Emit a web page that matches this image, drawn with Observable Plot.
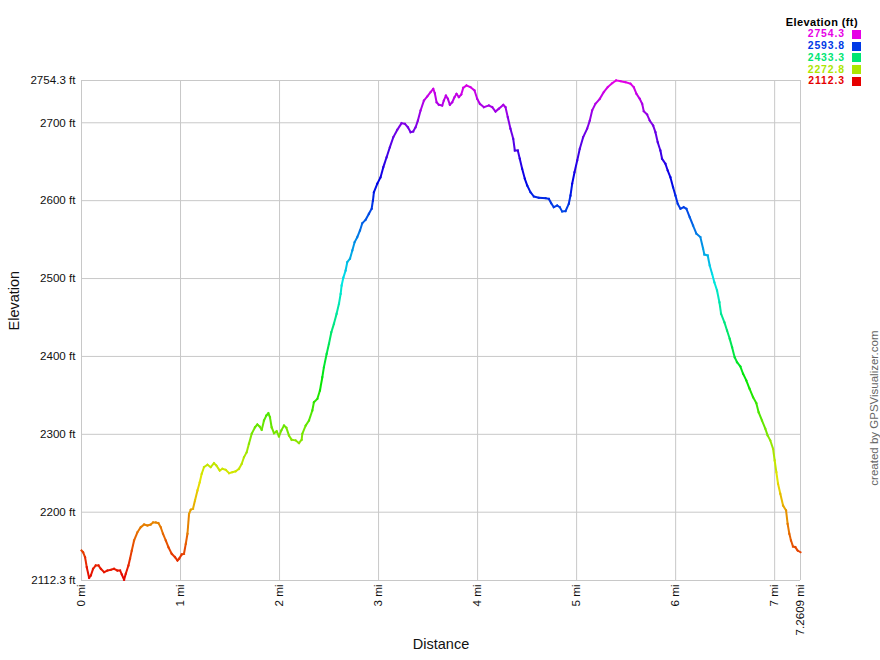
<!DOCTYPE html>
<html>
<head>
<meta charset="utf-8">
<script src="https://cdn.jsdelivr.net/npm/d3@7"></script>
<script src="https://cdn.jsdelivr.net/npm/@observablehq/plot@0.6"></script>
<style>
  html, body { margin: 0; padding: 0; background: #fff; }
  #wrap { position: relative; width: 880px; height: 660px; font-family: "Liberation Sans", Arial, sans-serif; }
  #wrap svg { display: block; }
  .lg { position: absolute; font-weight: bold; line-height: 1; white-space: nowrap; }
  .sw { position: absolute; width: 9px; height: 9px; }
</style>
</head>
<body>
<div id="wrap"></div>
<script>
// Distance along the track (miles)
const distanceMi = [
  0, 0.016, 0.036, 0.053, 0.077, 0.094, 0.117, 0.144, 0.172, 0.195,
  0.228, 0.262, 0.296, 0.329, 0.363, 0.390, 0.407, 0.430, 0.447, 0.474,
  0.490, 0.508, 0.531, 0.565, 0.598, 0.632, 0.666, 0.699, 0.723, 0.750,
  0.777, 0.800, 0.823, 0.851, 0.878, 0.911, 0.945, 0.969, 0.985, 1.012,
  1.035, 1.053, 1.070, 1.086, 1.103, 1.126, 1.146, 1.171, 1.194, 1.214,
  1.237, 1.272, 1.305, 1.338, 1.362, 1.396, 1.423, 1.456, 1.490, 1.524,
  1.557, 1.590, 1.618, 1.641, 1.668, 1.691, 1.719, 1.752, 1.776, 1.799,
  1.820, 1.843, 1.867, 1.887, 1.903, 1.920, 1.944, 1.971, 1.994, 2.018,
  2.045, 2.069, 2.095, 2.122, 2.163, 2.196, 2.223, 2.230, 2.264, 2.297,
  2.331, 2.347, 2.382, 2.408, 2.432, 2.448, 2.476, 2.499, 2.523, 2.549,
  2.576, 2.600, 2.617, 2.627, 2.644, 2.667, 2.684, 2.711, 2.735, 2.758,
  2.785, 2.812, 2.836, 2.869, 2.902, 2.930, 2.943, 2.953, 2.987, 3.020,
  3.048, 3.081, 3.114, 3.149, 3.189, 3.232, 3.266, 3.296, 3.323, 3.350,
  3.374, 3.397, 3.424, 3.458, 3.492, 3.525, 3.552, 3.568, 3.586, 3.609,
  3.643, 3.659, 3.680, 3.700, 3.720, 3.744, 3.767, 3.787, 3.811, 3.835,
  3.855, 3.888, 3.929, 3.969, 3.996, 4.023, 4.063, 4.113, 4.148, 4.181,
  4.214, 4.259, 4.282, 4.305, 4.332, 4.360, 4.376, 4.406, 4.426, 4.450,
  4.477, 4.501, 4.534, 4.568, 4.618, 4.686, 4.719, 4.743, 4.769, 4.804,
  4.830, 4.854, 4.888, 4.921, 4.938, 4.955, 4.979, 5.006, 5.032, 5.066,
  5.106, 5.133, 5.157, 5.190, 5.234, 5.274, 5.314, 5.359, 5.399, 5.443,
  5.493, 5.544, 5.577, 5.604, 5.637, 5.662, 5.678, 5.712, 5.738, 5.773,
  5.796, 5.819, 5.846, 5.863, 5.897, 5.920, 5.947, 5.974, 5.998, 6.021,
  6.048, 6.081, 6.109, 6.142, 6.176, 6.210, 6.250, 6.277, 6.290, 6.324,
  6.344, 6.368, 6.391, 6.418, 6.442, 6.459, 6.492, 6.519, 6.546, 6.570,
  6.596, 6.620, 6.654, 6.681, 6.714, 6.747, 6.782, 6.815, 6.838, 6.872,
  6.906, 6.929, 6.956, 6.984, 7.000, 7.017, 7.034, 7.057, 7.085, 7.115,
  7.131, 7.148, 7.165, 7.185, 7.209, 7.232, 7.2609
];
// Elevation at each point (feet)
const elevationFt = [
  2150.8, 2148.6, 2142.2, 2129.4, 2115.8, 2118.7, 2127.3, 2131.6, 2131.6, 2127.3,
  2123.0, 2125.1, 2126.0, 2127.3, 2125.1, 2125.1, 2120.0, 2113.2, 2120.9, 2131.6,
  2140.2, 2150.8, 2163.7, 2174.3, 2180.7, 2184.2, 2182.9, 2184.2, 2186.8, 2186.8,
  2185.9, 2180.7, 2172.3, 2163.7, 2155.1, 2146.6, 2142.2, 2138.0, 2140.2, 2145.7,
  2146.6, 2159.4, 2172.3, 2197.9, 2203.1, 2204.4, 2215.0, 2227.9, 2238.5, 2249.3,
  2257.8, 2260.9, 2257.8, 2262.9, 2260.0, 2253.5, 2255.7, 2254.4, 2250.1, 2251.4,
  2252.6, 2255.7, 2262.1, 2270.6, 2277.0, 2287.8, 2300.7, 2309.1, 2312.6, 2310.0,
  2305.8, 2317.7, 2324.2, 2327.1, 2322.0, 2309.1, 2301.4, 2304.0, 2297.2, 2304.9,
  2311.3, 2308.4, 2298.5, 2293.0, 2292.1, 2288.6, 2293.0, 2300.7, 2311.3, 2317.7,
  2330.6, 2341.2, 2345.6, 2356.3, 2373.3, 2386.2, 2403.4, 2416.2, 2431.1, 2441.9,
  2454.7, 2467.6, 2480.4, 2491.1, 2501.0, 2510.3, 2521.0, 2525.4, 2536.0, 2546.7,
  2553.1, 2561.7, 2571.1, 2575.4, 2583.1, 2589.6, 2600.2, 2610.9, 2621.7, 2630.1,
  2643.0, 2655.8, 2668.7, 2681.5, 2691.0, 2699.5, 2698.7, 2694.3, 2687.9, 2688.8,
  2694.3, 2702.9, 2715.8, 2728.6, 2733.8, 2739.3, 2743.6, 2738.0, 2726.4, 2723.1,
  2722.2, 2728.6, 2735.0, 2730.8, 2723.1, 2726.4, 2732.9, 2737.2, 2732.9, 2736.3,
  2744.9, 2747.9, 2745.7, 2741.5, 2730.8, 2724.4, 2720.0, 2722.2, 2720.0, 2714.5,
  2718.0, 2723.1, 2720.0, 2707.2, 2692.3, 2679.4, 2664.4, 2664.4, 2653.8, 2640.9,
  2628.1, 2619.5, 2610.9, 2605.4, 2603.7, 2603.2, 2602.4, 2596.8, 2591.6, 2593.8,
  2591.6, 2586.1, 2586.5, 2596.0, 2606.6, 2621.7, 2636.6, 2651.6, 2666.6, 2681.5,
  2692.3, 2702.9, 2715.8, 2724.4, 2730.8, 2739.3, 2745.7, 2750.8, 2754.3, 2753.4,
  2752.1, 2750.1, 2745.7, 2737.2, 2730.8, 2724.4, 2714.9, 2710.6, 2702.9, 2696.5,
  2687.9, 2675.1, 2664.4, 2653.8, 2647.3, 2638.7, 2630.1, 2617.3, 2606.6, 2596.0,
  2589.6, 2591.6, 2589.6, 2578.8, 2568.1, 2557.5, 2553.1, 2538.6, 2530.9, 2529.6,
  2516.8, 2506.1, 2495.3, 2484.7, 2469.6, 2454.7, 2444.0, 2433.3, 2422.6, 2411.9,
  2399.0, 2392.6, 2387.1, 2377.7, 2369.1, 2358.4, 2347.7, 2340.0, 2328.4, 2317.7,
  2307.1, 2298.5, 2292.1, 2281.4, 2266.4, 2251.4, 2236.5, 2223.6, 2208.6, 2202.2,
  2185.1, 2172.3, 2163.7, 2156.0, 2155.1, 2150.8, 2148.6
];
// Tick values
const xTicks = [0, 1, 2, 3, 4, 5, 6, 7, 7.2609];
const yTicks = [2112.3, 2200, 2300, 2400, 2500, 2600, 2700, 2754.3];
// Legend values (ft)
const legendValues = [2754.3, 2593.8, 2433.3, 2272.8, 2112.3];

const elevMin = 2112.3, elevMax = 2754.3;
const hueInterp = t => d3.hsl(300 * t, 1, 0.45).formatHex();

const segments = d3.range(distanceMi.length - 1).map(i => ({
  x1: distanceMi[i], y1: elevationFt[i],
  x2: distanceMi[i + 1], y2: elevationFt[i + 1],
  z: (elevationFt[i] + elevationFt[i + 1]) / 2
}));

const font = '"Liberation Sans", Arial, sans-serif';
const gridColor = "#c8c8c8";

const chart = Plot.plot({
  width: 880,
  height: 660,
  marginLeft: 81,
  marginRight: 80,
  marginTop: 80,
  marginBottom: 80,
  style: { fontFamily: font, fontSize: "11.6px", color: "#111", background: "white" },
  x: {
    domain: [0, 7.2609], ticks: xTicks, tickFormat: d => d + " mi",
    tickRotate: -90, tickSize: 0, tickPadding: 4, label: null
  },
  y: {
    domain: [elevMin, elevMax], ticks: yTicks, tickFormat: d => d + " ft",
    tickSize: 0, tickPadding: 6, label: null
  },
  color: { type: "linear", domain: [elevMin, elevMax], interpolate: hueInterp },
  marks: [
    Plot.ruleX(xTicks, { stroke: gridColor, strokeWidth: 1 }),
    Plot.ruleY(yTicks, { stroke: gridColor, strokeWidth: 1 }),
    Plot.link(segments, {
      x1: "x1", y1: "y1", x2: "x2", y2: "y2",
      stroke: "z", strokeWidth: 2, strokeLinecap: "square"
    }),
    Plot.text(["Elevation"], { text: d => d, frameAnchor: "left", dx: -67, rotate: -90, fontSize: 14.5, fill: "#111" }),
    Plot.text(["Distance"], { text: d => d, frameAnchor: "bottom", dy: 68, fontSize: 14.5, fill: "#111" }),
    Plot.text(["created by GPSVisualizer.com"], { text: d => d, frameAnchor: "right", dx: 74, rotate: -90, fontSize: 11.5, fill: "#666" })
  ]
});

const wrap = document.getElementById("wrap");
wrap.appendChild(chart);

// Legend (top right), colours taken from the chart's color scale
const colorScale = chart.scale("color");
const titleFs = 11;
const title = document.createElement("div");
title.className = "lg";
title.textContent = "Elevation (ft)";
title.style.right = (880 - 858) + "px";
title.style.top = (26 - 0.8465 * titleFs) + "px";
title.style.fontSize = titleFs + "px";
title.style.letterSpacing = "0.4px";
title.style.color = "#000";
wrap.appendChild(title);

const entryFs = 10.4;
legendValues.forEach((v, i) => {
  const baseline = 38.3 + i * 11.7;
  const lbl = document.createElement("div");
  lbl.className = "lg";
  lbl.textContent = v.toFixed(1);
  lbl.style.fontSize = entryFs + "px";
  lbl.style.letterSpacing = "0.9px";
  lbl.style.right = (880 - 844 - 0.9) + "px";
  lbl.style.top = (baseline - 0.8465 * entryFs) + "px";
  lbl.style.color = colorScale.apply(v);
  wrap.appendChild(lbl);
  const sw = document.createElement("div");
  sw.className = "sw";
  sw.style.left = "852px";
  sw.style.top = (baseline - 8.3) + "px";
  sw.style.background = colorScale.apply(v);
  wrap.appendChild(sw);
});
</script>
</body>
</html>
